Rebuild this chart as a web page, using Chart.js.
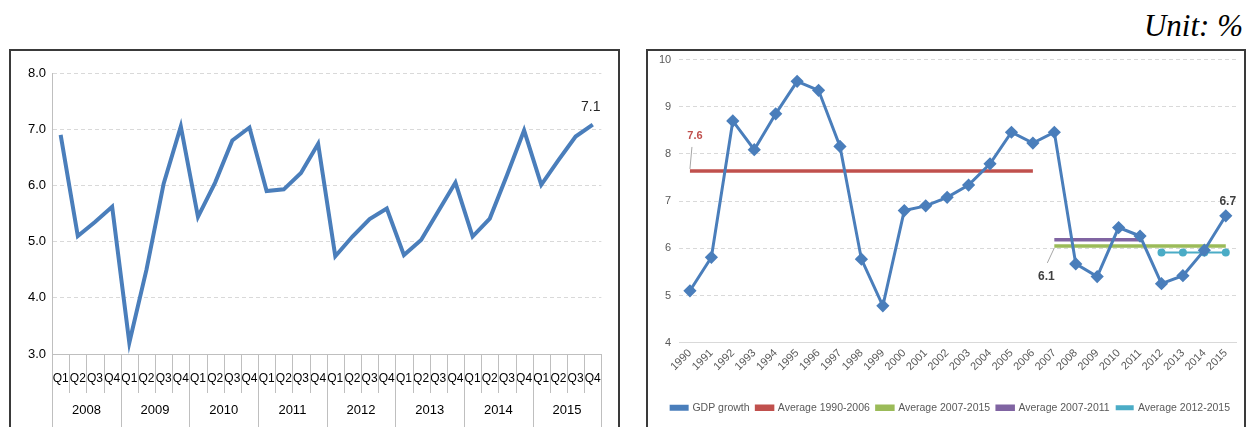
<!DOCTYPE html>
<html>
<head>
<meta charset="utf-8">
<script src="https://cdn.jsdelivr.net/npm/chart.js@4.4.0/dist/chart.umd.min.js"></script>
<style>
    body { margin: 0; width: 1246px; height: 427px; overflow: hidden; background: #fff; position: relative; }
    .box { position: absolute; border: 2px solid #3a3a3a; border-bottom: none; }
    .wrap { position: absolute; }
    #unit { position: absolute; right: 3px; top: 8px; font: italic 31px 'Liberation Serif', serif; color: #000; }
</style>
</head>
<body>
<div id="unit">Unit: %</div>
<div class="box" style="left:9px;top:49px;width:607px;height:380px"></div>
<div class="box" style="left:646px;top:49px;width:596px;height:380px"></div>
<div class="wrap" style="left:12px;top:52px;width:606px;height:375px"><canvas id="quarterly"></canvas></div>
<div class="wrap" style="left:649px;top:45px;width:595px;height:382px"><canvas id="annual"></canvas></div>

<script>
// ---- left chart: quarterly growth ----
const quarters = ['Q1', 'Q2', 'Q3', 'Q4'];
const quarterYears = ['2008', '2009', '2010', '2011', '2012', '2013', '2014', '2015'];
const quarterlyGrowth = [
    6.9, 5.1, 5.35, 5.62,
    3.2, 4.5, 6.03, 7.05,
    5.44, 6.05, 6.8, 7.03,
    5.9, 5.93, 6.22, 6.74,
    4.74, 5.09, 5.4, 5.59,
    4.76, 5.03, 5.54, 6.05,
    5.09, 5.41, 6.18, 6.98,
    6.01, 6.45, 6.87, 7.08
];

// ---- right chart: annual growth ----
const years = ['1990', '1991', '1992', '1993', '1994', '1995', '1996', '1997', '1998', '1999', '2000', '2001', '2002',
    '2003', '2004', '2005', '2006', '2007', '2008', '2009', '2010', '2011', '2012', '2013', '2014', '2015'];
const gdpGrowth = [5.1, 5.81, 8.7, 8.09, 8.85, 9.54, 9.35, 8.16, 5.77, 4.78, 6.8, 6.9, 7.08,
    7.34, 7.79, 8.46, 8.23, 8.46, 5.67, 5.4, 6.44, 6.26, 5.25, 5.42, 5.96, 6.69];
const avg1990_2006 = [7.64, 7.64, 7.64, 7.64, 7.64, 7.64, 7.64, 7.64, 7.64, 7.64, 7.64, 7.64, 7.64,
    7.64, 7.64, 7.64, 7.64, null, null, null, null, null, null, null, null, null];
const avg2007_2015 = [null, null, null, null, null, null, null, null, null, null, null, null, null,
    null, null, null, null, 6.05, 6.05, 6.05, 6.05, 6.05, 6.05, 6.05, 6.05, 6.05];
const avg2007_2011 = [null, null, null, null, null, null, null, null, null, null, null, null, null,
    null, null, null, null, 6.18, 6.18, 6.18, 6.18, 6.18, null, null, null, null];
const avg2012_2015 = [null, null, null, null, null, null, null, null, null, null, null, null, null,
    null, null, null, null, null, null, null, null, null, 5.91, 5.91, 5.91, 5.91];

const BLUE = '#4a7ebb';
const FONT = "'Liberation Sans', Arial, sans-serif";

// small text labels next to chosen points (Excel-style data labels)
const pointLabels = {
    id: 'pointLabels',
    afterDatasetsDraw(chart, args, opts) {
        const ctx = chart.ctx;
        (opts.items || []).forEach(it => {
            const pt = chart.getDatasetMeta(it.dataset).data[it.index];
            ctx.save();
            if (it.leader) {
                ctx.strokeStyle = '#a6a6a6';
                ctx.lineWidth = 1;
                ctx.beginPath();
                ctx.moveTo(pt.x + it.leader[0], pt.y + it.leader[1]);
                ctx.lineTo(pt.x + it.leader[2], pt.y + it.leader[3]);
                ctx.stroke();
            }
            ctx.font = it.font;
            ctx.fillStyle = it.color;
            ctx.textAlign = 'center';
            ctx.textBaseline = 'middle';
            ctx.fillText(it.text, pt.x + it.dx, pt.y + it.dy);
            ctx.restore();
        });
    }
};

// separators of the two-level category axis (quarters inside years)
const groupSeparators = {
    id: 'groupSeparators',
    afterDraw(chart, args, opts) {
        const x = chart.scales.x;
        const n = x.ticks.length;
        const band = x.getPixelForValue(1) - x.getPixelForValue(0);
        const top = chart.chartArea.bottom;
        const ctx = chart.ctx;
        ctx.save();
        ctx.strokeStyle = '#bfbfbf';
        ctx.lineWidth = 1;
        for (let i = 0; i <= n; i++) {
            const px = Math.round(x.getPixelForValue(0) + (i - 0.5) * band) + 0.5;
            const bottom = i % opts.groupSize === 0 ? chart.height : top + opts.innerLength;
            ctx.beginPath();
            ctx.moveTo(px, top);
            ctx.lineTo(px, bottom);
            ctx.stroke();
        }
        ctx.restore();
    }
};

const qLabels = [];
quarterYears.forEach(() => quarters.forEach(q => qLabels.push(q)));

new Chart(document.getElementById('quarterly'), {
    type: 'line',
    data: {
        labels: qLabels,
        datasets: [{
            data: quarterlyGrowth,
            borderColor: BLUE,
            borderWidth: 4,
            pointRadius: 0,
            tension: 0
        }]
    },
    options: {
        responsive: true,
        maintainAspectRatio: false,
        animation: false,
        layout: { padding: { top: 21, right: 15, left: 10, bottom: 9 } },
        plugins: {
            legend: { display: false },
            tooltip: { enabled: false },
            pointLabels: {
                items: [{ dataset: 0, index: 31, text: '7.1', dx: -2, dy: -18, font: '14px ' + FONT, color: '#262626' }]
            },
            groupSeparators: { groupSize: 4, innerLength: 39 }
        },
        scales: {
            x: {
                offset: true,
                grid: { display: false, drawTicks: false },
                border: { color: '#bfbfbf' },
                ticks: { padding: 17, autoSkip: false, maxRotation: 0, color: '#000', font: { family: FONT, size: 12 } }
            },
            x2: {
                type: 'category',
                labels: quarterYears,
                position: 'bottom',
                weight: 1,
                offset: true,
                grid: { display: false, drawTicks: false },
                border: { display: false },
                ticks: { padding: 0, autoSkip: false, maxRotation: 0, color: '#000', font: { family: FONT, size: 13 } }
            },
            y: {
                min: 3,
                max: 8,
                ticks: { stepSize: 1, padding: 6, color: '#000', font: { family: FONT, size: 13 }, callback: v => v.toFixed(1) },
                grid: { color: '#d9d9d9', drawTicks: false },
                border: { color: '#bfbfbf', dash: [4, 3] }
            }
        }
    },
    plugins: [pointLabels, groupSeparators]
});

new Chart(document.getElementById('annual'), {
    type: 'line',
    data: {
        labels: years,
        datasets: [
            { label: 'GDP growth', data: gdpGrowth, borderColor: BLUE, backgroundColor: BLUE, borderWidth: 3,
              pointStyle: 'rectRot', pointRadius: 4.5, tension: 0 },
            { label: 'Average 1990-2006', data: avg1990_2006, borderColor: '#c0504d', backgroundColor: '#c0504d',
              borderWidth: 3.5, pointRadius: 0 },
            { label: 'Average 2007-2015', data: avg2007_2015, borderColor: '#9bbb59', backgroundColor: '#9bbb59',
              borderWidth: 3.5, pointRadius: 0 },
            { label: 'Average 2007-2011', data: avg2007_2011, borderColor: '#8064a2', backgroundColor: '#8064a2',
              borderWidth: 3.5, pointRadius: 0 },
            { label: 'Average 2012-2015', data: avg2012_2015, borderColor: '#4bacc6', backgroundColor: '#4bacc6',
              borderWidth: 2, pointStyle: 'circle', pointRadius: 3 }
        ]
    },
    options: {
        responsive: true,
        maintainAspectRatio: false,
        animation: false,
        layout: { padding: { top: 2, right: 7, left: 2, bottom: 4 } },
        plugins: {
            legend: {
                position: 'bottom',
                align: 'end',
                labels: { boxWidth: 16, boxHeight: 3, padding: 7, color: '#595959', font: { family: FONT, size: 10.5 } }
            },
            tooltip: { enabled: false },
            pointLabels: {
                items: [
                    { dataset: 1, index: 0, text: '7.6', dx: 5, dy: -35, font: 'bold 11px ' + FONT, color: '#c0504d',
                      leader: [2, -24, 0, -2] },
                    { dataset: 2, index: 17, text: '6.1', dx: -8, dy: 31, font: 'bold 12px ' + FONT, color: '#404040',
                      leader: [0, 2, -7, 17] },
                    { dataset: 0, index: 25, text: '6.7', dx: 2, dy: -14, font: 'bold 12px ' + FONT, color: '#404040' }
                ]
            }
        },
        scales: {
            x: {
                offset: true,
                grid: { display: false, drawTicks: false },
                border: { color: '#d9d9d9' },
                ticks: { padding: 4, minRotation: 45, maxRotation: 45, autoSkip: false, color: '#595959', font: { family: FONT, size: 11 } },
                // blank title only reserves the gap between tick labels and legend
                title: { display: true, text: ' ', font: { size: 1 }, padding: { top: 0, bottom: 17 } }
            },
            y: {
                min: 4,
                max: 10,
                ticks: { stepSize: 1, padding: 8, color: '#595959', font: { family: FONT, size: 11 } },
                grid: { color: '#d9d9d9', drawTicks: false },
                border: { display: false, dash: [4, 3] }
            }
        }
    },
    plugins: [pointLabels]
});
</script>
</body>
</html>
